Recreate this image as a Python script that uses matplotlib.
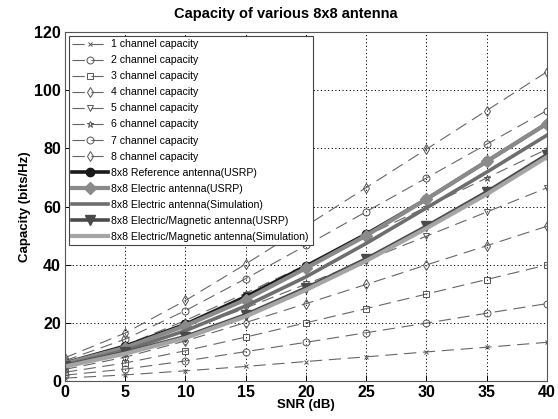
import matplotlib
matplotlib.use('Agg')
import matplotlib.pyplot as plt

plt.rcParams['font.family'] = ['Liberation Sans', 'DejaVu Sans']

# ── Data ──────────────────────────────────────────────────────────────────────
snr = [0, 5, 10, 15, 20, 25, 30, 35, 40]

ch1 = [1.0, 2.1, 3.5, 5.0, 6.7, 8.3, 10.0, 11.6, 13.3]
ch2 = [2.0, 4.1, 6.9, 10.1, 13.3, 16.6, 19.9, 23.3, 26.6]
ch3 = [3.0, 6.2, 10.4, 15.1, 20.0, 24.9, 29.9, 34.9, 39.9]
ch4 = [4.0, 8.2, 13.8, 20.1, 26.6, 33.2, 39.9, 46.5, 53.2]
ch5 = [5.0, 10.3, 17.3, 25.1, 33.3, 41.5, 49.8, 58.1, 66.4]
ch6 = [6.0, 12.3, 20.8, 30.2, 39.9, 49.9, 59.8, 69.8, 79.7]
ch7 = [7.0, 14.4, 24.2, 35.2, 46.6, 58.2, 69.8, 81.4, 93.0]
ch8 = [8.0, 16.5, 27.7, 40.2, 53.3, 66.5, 79.7, 93.0, 106.3]

ref_usrp  = [6.2, 12.0, 19.5, 29.0, 39.5, 50.5, 62.5, 75.5, 88.5]
elec_usrp = [6.0, 11.5, 19.0, 28.0, 38.8, 50.0, 62.5, 75.5, 88.5]
elec_sim  = [5.5, 10.5, 17.3, 25.8, 35.8, 47.3, 59.5, 71.8, 84.5]
em_usrp   = [5.3, 9.8, 15.3, 22.8, 32.0, 42.0, 53.2, 65.0, 77.8]
em_sim    = [5.0, 9.4, 14.8, 22.2, 31.3, 41.3, 52.5, 64.2, 77.0]

channel_labels = [f"{i} channel capacity" for i in range(1, 9)]
channel_markers = ['x', 'o', 's', 'd', 'v', '*', 'o', 'd']

# ── Figure ────────────────────────────────────────────────────────────────────
fig = plt.figure(figsize=(5.58, 4.19), dpi=100, facecolor='white')
ax = fig.add_axes([0.1165, 0.0907, 0.8635, 0.8329])

DASH = '#666666'
for ys, lab, mk in zip([ch1, ch2, ch3, ch4, ch5, ch6, ch7, ch8],
                       channel_labels, channel_markers):
    ax.plot(snr, ys, color=DASH, lw=0.8, dashes=(11, 6), marker=mk,
            markersize=5 if mk != 'x' else 3.5, markerfacecolor='none',
            markeredgecolor='#555555', markeredgewidth=0.7, label=lab)

ax.plot(snr, ref_usrp, color='#1a1a1a', lw=2.6, marker='o', markersize=6,
        label='8x8 Reference antenna(USRP)')
ax.plot(snr, elec_usrp, color='#8a8a8a', lw=3.0, marker='D', markersize=6,
        label='8x8 Electric antenna(USRP)')
ax.plot(snr, elec_sim, color='#6e6e6e', lw=2.6,
        label='8x8 Electric antenna(Simulation)')
ax.plot(snr, em_usrp, color='#4a4a4a', lw=2.6, marker='v', markersize=7,
        label='8x8 Electric/Magnetic antenna(USRP)')
ax.plot(snr, em_sim, color='#a5a5a5', lw=3.0,
        label='8x8 Electric/Magnetic antenna(Simulation)')

ax.set_xlim(0, 40)
ax.set_ylim(0, 120)
ax.set_xticks(range(0, 41, 5))
ax.set_yticks(range(0, 121, 20))
ax.grid(True, color='black', linestyle=(0, (1.2, 2.5)), lw=0.7)
ax.tick_params(direction='in', length=4, labelsize=11.5, width=0.7, pad=3)
for lab in ax.get_xticklabels() + ax.get_yticklabels():
    lab.set_fontweight('bold')
for sp in ax.spines.values():
    sp.set_color('#555555')
    sp.set_linewidth(0.8)

ax.set_xlabel('SNR (dB)', fontsize=9.5, fontweight='bold', labelpad=-1)
ax.set_ylabel('Capacity (bits/Hz)', fontsize=9.5, fontweight='bold', labelpad=2)
fig.text(0.512, 0.966, 'Capacity of various 8x8 antenna', fontsize=10.5,
         fontweight='bold', ha='center', va='center')

leg = ax.legend(loc='upper left', fontsize=7.6, handlelength=3.4,
                handletextpad=0.3, labelspacing=0.57, borderaxespad=0.35,
                fancybox=False, framealpha=1, edgecolor='#444444',
                borderpad=0.35)
leg.get_frame().set_linewidth(0.8)

plt.savefig('out.png', dpi=100, facecolor='white')
plt.close()
